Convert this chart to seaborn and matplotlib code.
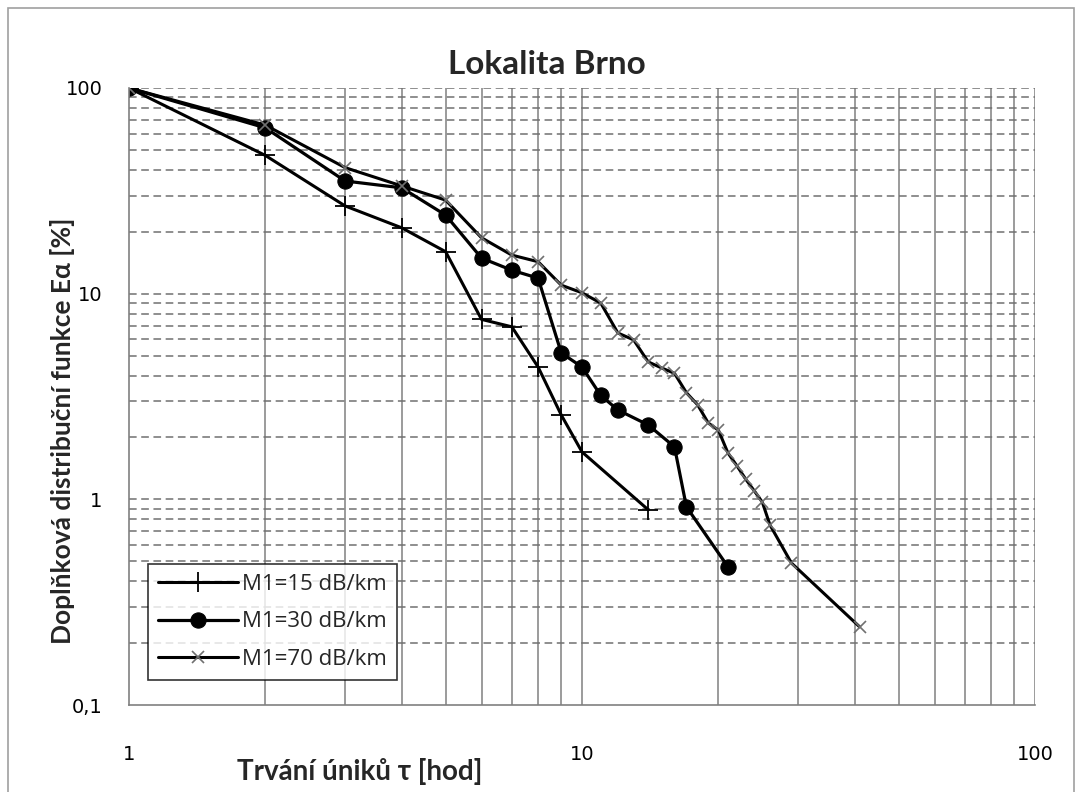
import numpy as np
import pandas as pd
import seaborn as sns
import matplotlib.pyplot as plt
from matplotlib.patches import Rectangle
from matplotlib.ticker import FixedLocator, NullFormatter

x15 = [1, 2, 3, 4, 5, 6, 7, 8, 9, 10, 14]
y15 = [100, 47, 26.7, 20.9, 16, 7.5, 6.9, 4.4, 2.57, 1.7, 0.89]

x30 = [1, 2, 3, 4, 5, 6, 7, 8, 9, 10, 11, 12, 14, 16, 17, 21]
y30 = [100, 64, 35.3, 32.7, 24.1, 14.9, 13, 11.9, 5.15, 4.4, 3.2, 2.72, 2.3, 1.8, 0.92, 0.47]

x70 = [1, 2, 3, 4, 5, 6, 7, 8, 9, 10, 11, 12, 13, 14, 15, 16, 17, 18, 19, 20,
       21, 22, 23, 24, 25, 26, 29, 41]
y70 = [100, 66, 41, 33.4, 28.5, 18.7, 15.4, 14.3, 11, 10.1, 9, 6.44, 5.96, 4.66, 4.35, 4.1,
       3.3, 2.88, 2.35, 2.17, 1.68, 1.45, 1.25, 1.1, 0.97, 0.75, 0.49, 0.24]

labels = ['M1=15 dB/km', 'M1=30 dB/km', 'M1=70 dB/km']
title = 'Lokalita Brno'
xlabel = 'Trvání úniků τ [hod]'
ylabel = 'Doplňková distribuční funkce Eα [%]'

sns.set_theme(style='white')
plt.rcParams['font.family'] = ['Lato', 'DejaVu Sans']

fig = plt.figure(figsize=(10.82, 7.92), dpi=100)
ax = fig.add_axes([0.1192, 0.1098, 0.8374, 0.7791])
fig.patches.append(Rectangle((0.0074, -0.05), 0.9856, 1.04, transform=fig.transFigure,
                             fill=False, edgecolor='#a0a0a0', lw=1.2))

sns.lineplot(x=x15, y=y15, ax=ax, color='black', lw=2.2, marker='+', markersize=14,
             markeredgewidth=1.3, markeredgecolor='black', label=labels[0])
sns.lineplot(x=x30, y=y30, ax=ax, color='black', lw=2.3, marker='o', markersize=11,
             markeredgecolor='black', markerfacecolor='black', label=labels[1])
sns.lineplot(x=x70, y=y70, ax=ax, color='black', lw=2.2, marker='x', markersize=9,
             markeredgewidth=1.2, markeredgecolor='#707070', label=labels[2])

ax.set_xscale('log')
ax.set_yscale('log')
ax.set_xlim(1, 100)
ax.set_ylim(0.1, 100)

minor = [m * d for d in [0.1, 1, 10] for m in range(2, 10)]
xminor = [m * d for d in [1, 10] for m in range(2, 10)]
ax.yaxis.set_minor_locator(FixedLocator(minor))
ax.xaxis.set_minor_locator(FixedLocator(xminor))
ax.xaxis.set_minor_formatter(NullFormatter())
ax.yaxis.set_minor_formatter(NullFormatter())
ax.set_xticks([1, 10, 100])
ax.set_xticklabels(['1', '10', '100'])
ax.set_yticks([0.1, 1, 10, 100])
ax.set_yticklabels(['0,1', '1', '10', '100'])

for v in xminor + [10, 100]:
    ax.axvline(v, color='#808080', lw=1.1, zorder=0)
for v in minor + [1, 10, 100]:
    ax.axhline(v, color='#707070', lw=1.1, ls=(0, (5, 3)), zorder=0)

for s in ['top', 'right']:
    ax.spines[s].set_visible(False)
for s in ['left', 'bottom']:
    ax.spines[s].set_color('#808080')
    ax.spines[s].set_linewidth(1.2)

ax.tick_params(axis='both', which='major', direction='inout', length=10, width=1,
               color='#808080', labelcolor='black')
ax.tick_params(axis='x', which='major', pad=24)
ax.tick_params(axis='y', which='major', pad=14)
ax.tick_params(axis='both', which='minor', direction='in', length=5, width=1, color='#808080')
for lab in ax.get_xticklabels() + ax.get_yticklabels():
    lab.set_fontfamily('DejaVu Sans')
    lab.set_fontsize(14)

ax.set_xlabel('')
ax.set_ylabel('')
fig.text(0.505, 0.918, title, ha='center', va='center', fontsize=24, fontweight='bold')
fig.text(0.219, 0.0265, xlabel, ha='left', va='center', fontsize=20, fontweight='bold')
fig.text(0.058, 0.456, ylabel, ha='center', va='center', rotation=90, fontsize=19,
         fontweight='bold')

leg = ax.legend(loc='lower left', bbox_to_anchor=(0.021, 0.0405), fontsize=16,
                frameon=True, fancybox=False, borderpad=0.45, labelspacing=0.75,
                handlelength=3.6, handletextpad=0.2, borderaxespad=0)
leg.get_frame().set_edgecolor('black')
leg.get_frame().set_linewidth(1.2)
for t in leg.get_texts():
    t.set_fontfamily('Open Sans')

fig.savefig('out.png', dpi=100)
